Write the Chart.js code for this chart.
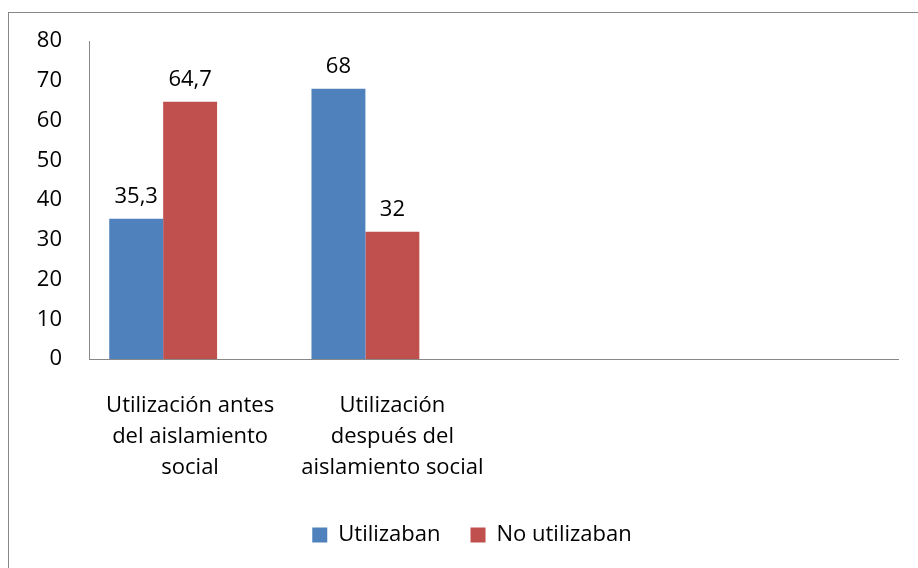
<!DOCTYPE html>
<html>
<head>
<meta charset="utf-8">
<script src="https://cdn.jsdelivr.net/npm/chart.js@4"></script>
<style>
  html, body { margin: 0; padding: 0; background: #fff; }
  #wrap { width: 918px; height: 568px; }
</style>
</head>
<body>
<div id="wrap"><canvas id="chart1"></canvas></div>
<script>
const categories = [
    ['Utilización antes', 'del aislamiento', 'social'],
    ['Utilización', 'después del', 'aislamiento social'],
    '',
    ''
];
const utilizaban = [35.3, 68, null, null];
const noUtilizaban = [64.7, 32, null, null];
const vacio = [null, null, null, null]; // tercera serie vacía (espacio en el grupo)
const yTicks = [0, 10, 20, 30, 40, 50, 60, 70, 80];

const FONT = '"Open Sans", "Noto Sans", sans-serif';

// marco gris alrededor del gráfico + leyenda un poco a la derecha
const marco = {
    id: 'marco',
    afterLayout(chart) {
        chart.legend.left += 23;
        chart.legend.right += 23;
    },
    beforeDraw(chart) {
        const ctx = chart.ctx;
        ctx.save();
        ctx.strokeStyle = '#878787';
        ctx.lineWidth = 1;
        ctx.strokeRect(8.5, 12.5, 940, 600);
        ctx.restore();
    }
};

// etiquetas de valor encima de cada barra
const etiquetas = {
    id: 'etiquetas',
    afterDatasetsDraw(chart) {
        const ctx = chart.ctx;
        ctx.save();
        ctx.font = '22px ' + FONT;
        ctx.fillStyle = '#000';
        ctx.textAlign = 'center';
        ctx.textBaseline = 'middle';
        chart.data.datasets.forEach((ds, i) => {
            chart.getDatasetMeta(i).data.forEach((bar, j) => {
                const v = ds.data[j];
                if (v === null) return;
                ctx.fillText(String(v).replace('.', ','), bar.x, bar.y - 22);
            });
        });
        ctx.restore();
    }
};

new Chart(document.getElementById('chart1'), {
    type: 'bar',
    data: {
        labels: categories,
        datasets: [
            { label: 'Utilizaban', data: utilizaban, backgroundColor: '#4F81BD' },
            { label: 'No utilizaban', data: noUtilizaban, backgroundColor: '#C0504D' },
            { label: '', data: vacio, backgroundColor: '#9BBB59' }
        ]
    },
    options: {
        responsive: true,
        maintainAspectRatio: false,
        animation: false,
        datasets: { bar: { categoryPercentage: 0.8, barPercentage: 1.0 } },
        layout: { padding: { top: 41, right: 20, left: 0, bottom: 12 } },
        plugins: {
            legend: {
                position: 'bottom',
                labels: {
                    filter: item => item.text !== '',
                    boxWidth: 15,
                    boxHeight: 15,
                    padding: 30,
                    color: '#000',
                    font: { family: FONT, size: 22 }
                }
            },
            tooltip: { enabled: false }
        },
        scales: {
            x: {
                grid: { display: false, drawTicks: false },
                border: { display: true, color: '#888' },
                ticks: {
                    color: '#000',
                    padding: 31,
                    maxRotation: 0,
                    autoSkip: false,
                    font: { family: FONT, size: 22, lineHeight: 1.41 }
                },
                afterFit: s => { s.height = 135; }
            },
            y: {
                min: 0,
                max: 80,
                afterBuildTicks: s => { s.ticks = yTicks.map(v => ({ value: v })); },
                grid: { display: false, drawTicks: false },
                border: { display: true, color: '#888' },
                ticks: {
                    color: '#000',
                    padding: 27,
                    font: { family: FONT, size: 22 }
                },
                afterFit: s => { s.width = 89; }
            }
        }
    },
    plugins: [marco, etiquetas]
});
</script>
</body>
</html>
